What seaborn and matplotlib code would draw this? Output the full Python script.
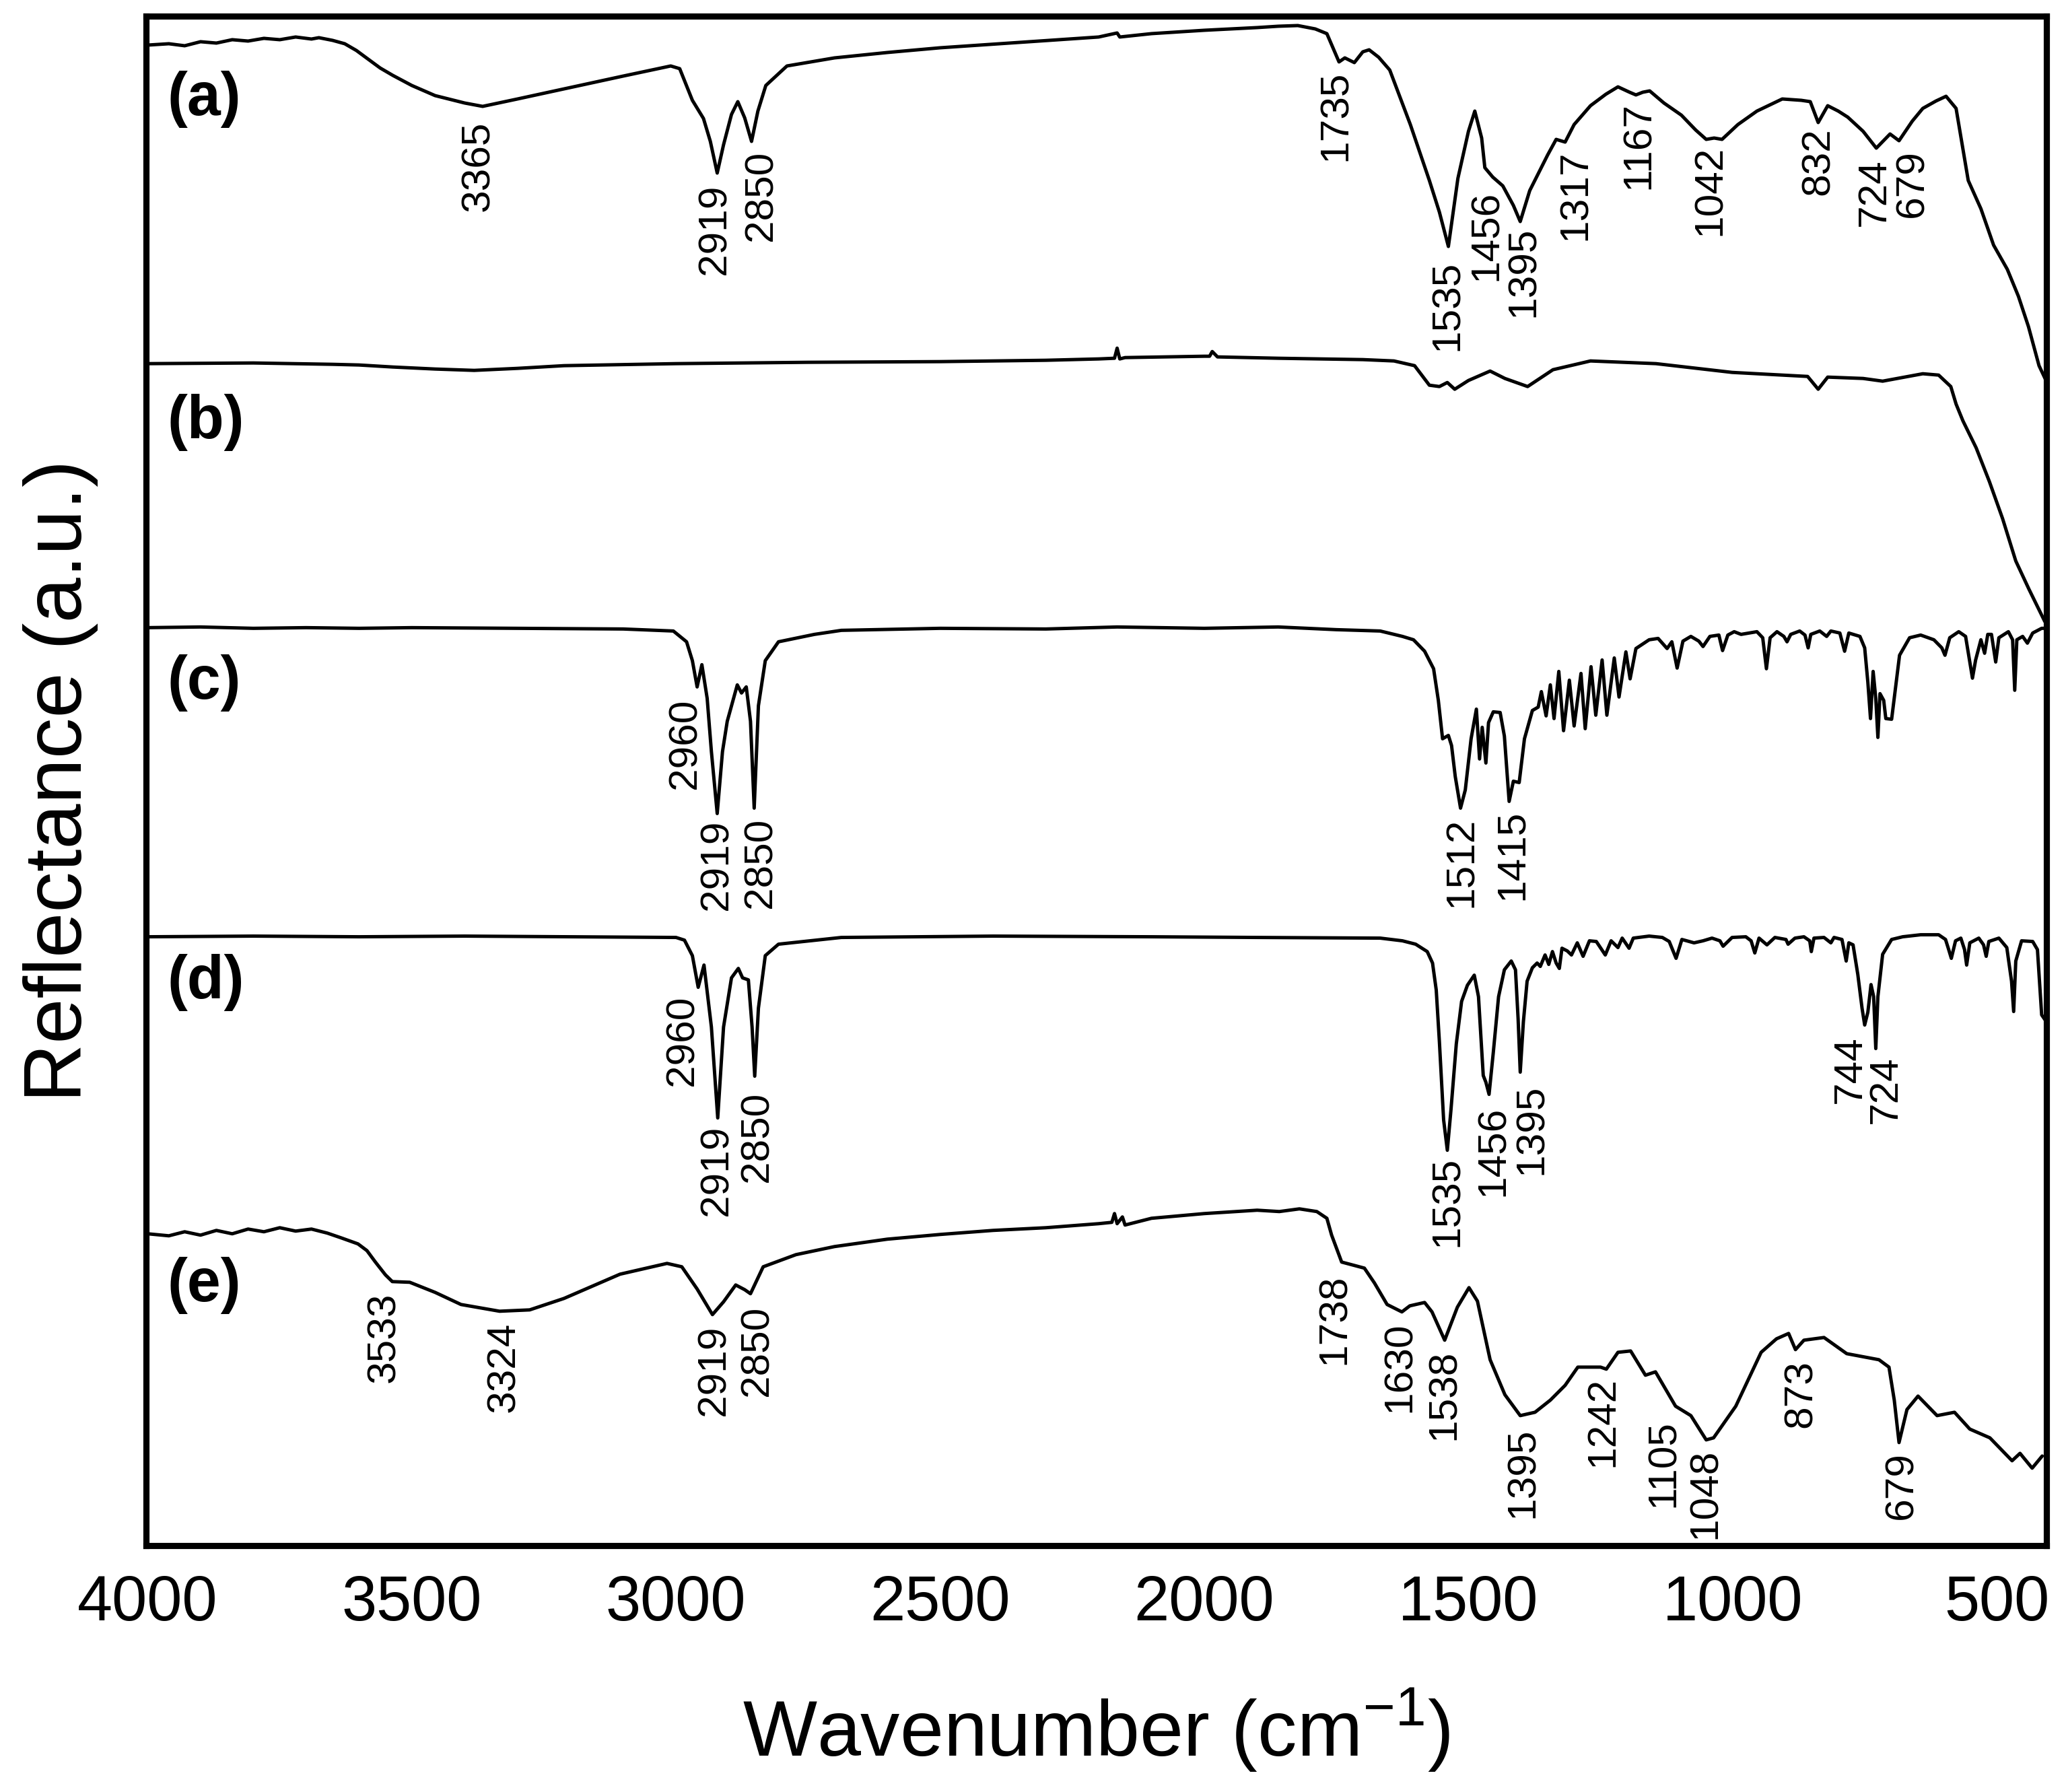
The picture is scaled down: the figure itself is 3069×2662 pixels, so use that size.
import matplotlib
matplotlib.use("Agg")
import matplotlib.pyplot as plt
import seaborn as sns
import pandas as pd

# ---- spectra (wavenumber in cm-1, reflectance in a.u., stacked) ----
a_wn = [4000, 3960, 3930, 3900, 3870, 3840, 3810, 3780, 3750, 3720, 3690, 3676, 3650, 3627, 3605, 3586,
        3560, 3536, 3500, 3456, 3400, 3366, 3300, 3200, 3100, 3010, 2993, 2969, 2948, 2935, 2922, 2910,
        2895, 2883, 2870, 2857, 2845, 2830, 2790, 2700, 2600, 2500, 2350, 2200, 2165, 2160, 2100, 2000,
        1900, 1860, 1823, 1790, 1768, 1745, 1734, 1716, 1700, 1688, 1670, 1649, 1610, 1574, 1555,
        1538, 1520, 1500, 1488, 1475, 1469, 1454, 1435, 1415, 1402, 1384, 1350, 1334, 1317, 1300,
        1269, 1240, 1217, 1195, 1183, 1170, 1157, 1130, 1097, 1070, 1050, 1035, 1020, 990, 954,
        906, 870, 853, 838, 820, 800, 782, 753, 728, 702, 685, 660, 640, 615, 596, 577, 554, 530,
        506, 480, 459, 440, 420, 405]
a_val = [22.28, 22.30, 22.27, 22.33, 22.31, 22.36, 22.34, 22.38, 22.36, 22.40, 22.37, 22.39, 22.35,
         22.30, 22.20, 22.09, 21.94, 21.83, 21.68, 21.53, 21.42, 21.37, 21.48, 21.65, 21.82, 21.97,
         21.93, 21.46, 21.19, 20.85, 20.38, 20.80, 21.25, 21.44, 21.20, 20.85, 21.30, 21.68, 21.97,
         22.09, 22.17, 22.24, 22.32, 22.40, 22.46, 22.40, 22.45, 22.50, 22.54, 22.56, 22.57, 22.52,
         22.45, 22.03, 22.09, 22.02, 22.18, 22.21, 22.10, 21.91, 21.10, 20.27, 19.80, 19.29, 20.30,
         21.00, 21.30, 20.90, 20.46, 20.32, 20.19, 19.90, 19.66, 20.12, 20.65, 20.88, 20.84, 21.10,
         21.38, 21.55, 21.66, 21.58, 21.54, 21.58, 21.60, 21.42, 21.24, 21.02, 20.88, 20.90, 20.88,
         21.10, 21.30, 21.48, 21.46, 21.44, 21.13, 21.38, 21.30, 21.21, 21.00, 20.75, 20.96, 20.86,
         21.15, 21.34, 21.45, 21.52, 21.34, 20.27, 19.85, 19.31, 18.95, 18.55, 18.10, 17.52, 17.27]

b_wn = [4000, 3800, 3650, 3600, 3536, 3456, 3382, 3300, 3212, 3000, 2751, 2500, 2300, 2200, 2170,
        2165, 2160, 2150, 2000, 1990, 1985, 1975, 1860, 1700, 1641, 1602, 1574, 1555, 1540, 1526,
        1500, 1459, 1431, 1388, 1340, 1269, 1145, 1001, 858, 838, 820, 753, 716, 640, 610, 587,
        577, 564, 539, 514, 489, 464, 439, 409]
b_val = [17.55, 17.56, 17.54, 17.53, 17.50, 17.47, 17.45, 17.48, 17.52, 17.55, 17.57, 17.58, 17.60,
         17.62, 17.63, 17.78, 17.62, 17.64, 17.66, 17.66, 17.73, 17.65, 17.63, 17.61, 17.59, 17.52,
         17.23, 17.21, 17.27, 17.17, 17.30, 17.44, 17.33, 17.21, 17.46, 17.59, 17.55, 17.42, 17.36,
         17.17, 17.35, 17.33, 17.29, 17.40, 17.38, 17.21, 16.95, 16.70, 16.30, 15.80, 15.25, 14.62,
         14.20, 13.72]

c_wn = [4000, 3900, 3800, 3700, 3600, 3500, 3300, 3100, 3005, 2980, 2969, 2960, 2951, 2941, 2933,
        2922, 2912, 2903, 2884, 2876, 2867, 2859, 2852, 2844, 2831, 2806, 2738, 2687, 2500, 2300,
        2165, 2000, 1860, 1750, 1667, 1625, 1604, 1583, 1566, 1557, 1549, 1538, 1532, 1525, 1515,
        1506, 1495, 1485, 1479, 1474, 1467, 1462, 1453, 1440, 1432, 1423, 1415, 1404, 1394, 1379,
        1368, 1362, 1353, 1345, 1338, 1329, 1320, 1309, 1300, 1287, 1279, 1268, 1259, 1247, 1238,
        1224, 1215, 1202, 1194, 1183, 1158, 1141, 1124, 1115, 1105, 1094, 1079, 1064, 1056, 1043,
        1026, 1019, 1009, 997, 984, 954, 943, 936, 929, 916, 903, 897, 890, 873, 863, 857, 852,
        835, 822, 814, 797, 788, 780, 759, 750, 744, 739, 734, 729, 725, 721, 714, 710, 699, 693,
        684, 665, 644, 619, 604, 598, 589, 572, 559, 551, 546, 540, 530, 523, 517, 510, 502, 496,
        478, 470, 466, 462, 451, 442, 432, 415, 408]
c_val = [13.63, 13.64, 13.62, 13.63, 13.62, 13.63, 13.62, 13.61, 13.58, 13.42, 13.14, 12.75, 13.08,
         12.58, 11.79, 10.87, 11.79, 12.24, 12.78, 12.66, 12.75, 12.24, 10.95, 12.47, 13.14, 13.42,
         13.53, 13.59, 13.62, 13.61, 13.64, 13.62, 13.64, 13.60, 13.58, 13.50, 13.45, 13.28, 13.02,
         12.55, 11.98, 12.03, 11.88, 11.42, 10.95, 11.22, 11.98, 12.42, 11.68, 12.15, 11.62, 12.22,
         12.38, 12.37, 12.02, 11.05, 11.35, 11.33, 11.98, 12.40, 12.45, 12.68, 12.32, 12.78, 12.28,
         12.98, 12.10, 12.85, 12.17, 12.95, 12.13, 13.05, 12.33, 13.15, 12.33, 13.18, 12.60, 13.27,
         12.87, 13.32, 13.45, 13.47, 13.32, 13.42, 13.03, 13.43, 13.50, 13.43, 13.35, 13.50, 13.52,
         13.29, 13.52, 13.57, 13.53, 13.57, 13.48, 13.02, 13.48, 13.57, 13.50, 13.42, 13.53, 13.58,
         13.52, 13.33, 13.53, 13.58, 13.50, 13.58, 13.55, 13.28, 13.55, 13.50, 13.33, 12.82, 12.28,
         12.98, 12.58, 12.00, 12.65, 12.55, 12.28, 12.27, 12.65, 13.22, 13.48, 13.52, 13.45, 13.33,
         13.22, 13.48, 13.57, 13.50, 13.12, 12.88, 13.15, 13.45, 13.25, 13.53, 13.53, 13.12, 13.48,
         13.57, 13.45, 12.70, 13.45, 13.50, 13.40, 13.55, 13.62, 13.62]

d_wn = [4000, 3800, 3600, 3400, 3200, 3000, 2984, 2969, 2958, 2947, 2933, 2921, 2910, 2895, 2882,
        2874, 2863, 2856, 2851, 2844, 2831, 2806, 2687, 2400, 2100, 1900, 1667, 1625, 1600, 1578,
        1568, 1561, 1555, 1547, 1540, 1533, 1523, 1513, 1502, 1489, 1481, 1472, 1467, 1461, 1453,
        1443, 1432, 1419, 1411, 1406, 1402, 1396, 1389, 1379, 1370, 1364, 1355, 1348, 1341, 1334,
        1328, 1323, 1313, 1305, 1294, 1283, 1271, 1258, 1241, 1230, 1217, 1209, 1196, 1188, 1158,
        1133, 1120, 1107, 1096, 1073, 1056, 1039, 1024, 1018, 1001, 975, 965, 958, 950, 935, 920,
        899, 895, 882, 865, 854, 851, 846, 827, 814, 808, 793, 785, 780, 772, 763, 755, 750, 744,
        738, 733, 729, 725, 716, 699, 678, 644, 610, 597, 591, 586, 578, 568, 561, 557, 551, 534,
        525, 520, 515, 496, 481, 472, 468, 464, 453, 432, 423, 415, 408]
d_val = [9.04, 9.05, 9.04, 9.05, 9.04, 9.03, 8.99, 8.76, 8.29, 8.62, 7.70, 6.35, 7.70, 8.43, 8.57,
         8.43, 8.40, 7.70, 6.97, 7.98, 8.76, 8.93, 9.03, 9.05, 9.04, 9.03, 9.02, 8.98, 8.93, 8.82,
         8.65, 8.25, 7.48, 6.32, 5.87, 6.48, 7.45, 8.08, 8.32, 8.47, 8.15, 6.98, 6.88, 6.70, 7.32,
         8.15, 8.55, 8.68, 8.55, 7.82, 7.03, 7.78, 8.38, 8.58, 8.65, 8.60, 8.77, 8.63, 8.82, 8.65,
         8.57, 8.87, 8.83, 8.77, 8.95, 8.75, 8.98, 8.97, 8.77, 8.98, 8.88, 9.02, 8.87, 9.02, 9.05,
         9.03, 8.97, 8.72, 9.00, 8.95, 8.98, 9.02, 8.98, 8.90, 9.03, 9.04, 8.98, 8.80, 9.02, 8.92,
         9.03, 9.00, 8.93, 9.02, 9.04, 8.98, 8.82, 9.02, 9.03, 8.95, 9.03, 9.00, 8.68, 8.95, 8.92,
         8.48, 7.98, 7.73, 7.92, 8.33, 8.15, 7.38, 8.15, 8.78, 9.00, 9.04, 9.07, 9.07, 9.00, 8.85,
         8.72, 8.98, 9.02, 8.85, 8.62, 8.95, 9.02, 8.92, 8.75, 8.97, 9.02, 8.88, 8.38, 7.93, 8.68,
         8.98, 8.97, 8.85, 7.88, 7.80]

e_wn = [4000, 3960, 3930, 3900, 3870, 3840, 3810, 3780, 3750, 3720, 3690, 3660, 3634, 3602, 3585,
        3569, 3550, 3537, 3504, 3456, 3407, 3334, 3277, 3212, 3106, 3017, 2989, 2960, 2931, 2910,
        2887, 2870, 2859, 2835, 2773, 2700, 2600, 2500, 2400, 2300, 2200, 2175, 2170, 2165, 2155,
        2150, 2100, 2000, 1900, 1858, 1820, 1787, 1768, 1759, 1740, 1716, 1697, 1678, 1654, 1626,
        1611, 1583, 1569, 1545, 1521, 1499, 1483, 1459, 1431, 1402, 1374, 1345, 1317, 1293, 1250,
        1239, 1217, 1193, 1165, 1146, 1108, 1079, 1050, 1036, 994, 946, 917, 894, 881, 865, 827,
        784, 723, 704, 694, 685, 670, 649, 613, 580, 551, 513, 471, 456, 433, 414]
e_val = [4.63, 4.60, 4.66, 4.61, 4.68, 4.63, 4.70, 4.66, 4.72, 4.67, 4.70, 4.64, 4.57, 4.48, 4.38,
         4.21, 4.02, 3.92, 3.91, 3.76, 3.58, 3.48, 3.50, 3.67, 4.03, 4.19, 4.14, 3.81, 3.43, 3.62,
         3.87, 3.80, 3.74, 4.14, 4.32, 4.44, 4.55, 4.62, 4.68, 4.72, 4.78, 4.80, 4.93, 4.78, 4.88,
         4.76, 4.86, 4.93, 4.98, 4.96, 5.00, 4.96, 4.86, 4.61, 4.21, 4.16, 4.12, 3.90, 3.58, 3.47,
         3.56, 3.61, 3.47, 3.05, 3.54, 3.83, 3.63, 2.76, 2.24, 1.93, 1.98, 2.16, 2.38, 2.65, 2.65,
         2.62, 2.87, 2.89, 2.53, 2.58, 2.07, 1.93, 1.57, 1.60, 2.07, 2.87, 3.07, 3.15, 2.91, 3.05,
         3.09, 2.85, 2.76, 2.65, 2.16, 1.53, 2.02, 2.22, 1.93, 1.98, 1.73, 1.60, 1.26, 1.37, 1.15,
         1.33]

sample_names = ["(a)", "(b)", "(c)", "(d)", "(e)"]

# peak labels for each spectrum
peaks_a = ["3365", "2919", "2850", "1735", "1535", "1456", "1395", "1317", "1167", "1042", "832", "724", "679"]
peaks_c = ["2960", "2919", "2850", "1512", "1415"]
peaks_d = ["2960", "2919", "2850", "1535", "1456", "1395", "744", "724"]
peaks_e = ["3533", "3324", "2919", "2850", "1738", "1630", "1538", "1395", "1242", "1105", "1048", "873", "679"]
x_ticks = [4000, 3500, 3000, 2500, 2000, 1500, 1000, 500]


def main():
    sns.set_style("white")
    plt.rcParams['font.family'] = ['Liberation Sans', 'DejaVu Sans']
    plt.rcParams['mathtext.fontset'] = 'custom'
    plt.rcParams['mathtext.rm'] = 'Liberation Sans'
    plt.rcParams['text.color'] = 'black'
    plt.rcParams['axes.labelcolor'] = 'black'
    plt.rcParams['xtick.color'] = 'black'

    fig = plt.figure(figsize=(3070 / 300, 2662 / 300), dpi=300)
    ax = fig.add_axes([0.0707, 0.1375, 0.9195, 0.8535])

    spectra = [(a_wn, a_val), (b_wn, b_val), (c_wn, c_val), (d_wn, d_val), (e_wn, e_val)]
    for wn, val in spectra:
        df = pd.DataFrame({"wn": wn, "val": val})
        sns.lineplot(data=df, x="wn", y="val", ax=ax, color="black", linewidth=1.2,
                     estimator=None, sort=False)

    ax.set_xlim(4003, 406)
    ax.set_ylim(0, 22.71)

    # label placement (x, top y) for the rotated peak numbers
    pos_a = [(3374, 21.15), (2926, 20.21), (2838, 20.71), (1751, 21.90), (1539, 19.08), (1466, 20.12),
             (1396, 19.58), (1297, 20.73), (1177, 21.44), (1043, 20.79), (837, 21.06), (731, 20.60),
             (660, 20.73)]
    pos_c = [(2983, 12.58), (2922, 10.78), (2840, 10.81), (1513, 10.82), (1417, 10.93)]
    pos_d = [(2987, 8.17), (2922, 6.24), (2846, 6.74), (1540, 5.78), (1453, 6.53), (1380, 6.85),
             (777, 7.57), (710, 7.27)]
    pos_e = [(3553, 3.76), (3325, 3.32), (2927, 3.27), (2846, 3.56), (1753, 4.03), (1630, 3.32),
             (1546, 2.91), (1397, 1.75), (1246, 2.51), (1131, 1.87), (1052, 1.44), (870, 2.76),
             (680, 1.40)]
    for labels, pos in [(peaks_a, pos_a), (peaks_c, pos_c), (peaks_d, pos_d), (peaks_e, pos_e)]:
        for lab, (x, y) in zip(labels, pos):
            ax.text(x, y, lab, rotation=90, ha="center", va="top", fontsize=14.5)

    name_y = [21.48, 16.68, 12.81, 8.36, 3.86]
    for name, y in zip(sample_names, name_y):
        ax.text(3963, y, name, fontsize=21.5, fontweight="bold", ha="left", va="center")

    ax.set_xticks(x_ticks)
    ax.set_xticklabels([str(t) for t in x_ticks])
    ax.set_yticks([])
    ax.tick_params(axis="x", length=0, pad=10, labelsize=22.5)
    for sp in ax.spines.values():
        sp.set_linewidth(2.2)
        sp.set_color("black")

    ax.set_xlabel("Wavenumber (cm$^{-1}$)", fontsize=28, labelpad=19)
    ax.set_ylabel("Reflectance (a.u.)", fontsize=29, labelpad=17)

    fig.savefig("out.png", dpi=300)
    return 0


if __name__ == '__main__':
    main()
